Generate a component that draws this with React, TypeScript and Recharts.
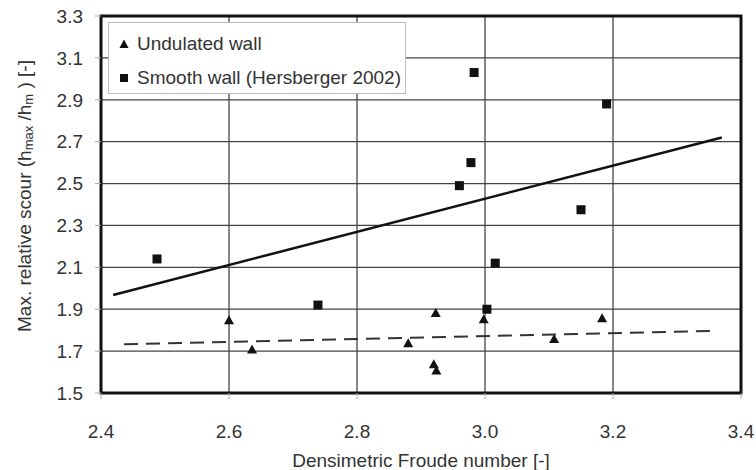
import React from "react";
import {
  ComposedChart,
  Scatter,
  Line,
  XAxis,
  YAxis,
  CartesianGrid,
  ReferenceArea,
} from "recharts";

// undulated wall measurements (Froude number, relative scour)
const undulatedWall = [
  { x: 2.6, y: 1.845 },
  { x: 2.636, y: 1.705 },
  { x: 2.88, y: 1.735 },
  { x: 2.923, y: 1.88 },
  { x: 2.92, y: 1.635 },
  { x: 2.924, y: 1.605 },
  { x: 2.998, y: 1.85 },
  { x: 3.108, y: 1.755 },
  { x: 3.183, y: 1.855 },
];

// smooth wall, Hersberger 2002
const smoothWall = [
  { x: 2.4875, y: 2.14 },
  { x: 2.739, y: 1.92 },
  { x: 2.983, y: 3.03 },
  { x: 2.978, y: 2.6 },
  { x: 2.96, y: 2.49 },
  { x: 3.003, y: 1.9 },
  { x: 3.016, y: 2.12 },
  { x: 3.15, y: 2.375 },
  { x: 3.19, y: 2.88 },
];

// trend lines
const smoothFit = [
  { x: 2.419, y: 1.968 },
  { x: 3.37, y: 2.72 },
];
const undulatedFit = [
  { x: 2.436, y: 1.733 },
  { x: 3.352, y: 1.796 },
];

const xTicks = [2.4, 2.6, 2.8, 3.0, 3.2, 3.4];
const yTicks = [1.5, 1.7, 1.9, 2.1, 2.3, 2.5, 2.7, 2.9, 3.1, 3.3];

const FONT = "'Liberation Sans', Arial, Helvetica, sans-serif";
const TEXT = "#333";
const FS = 19;

const Triangle = (props: any) => {
  const { cx, cy } = props;
  return (
    <polygon
      points={`${cx},${cy - 5.5} ${cx - 5},${cy + 3.5} ${cx + 5},${cy + 3.5}`}
      fill="#111"
    />
  );
};

const Square = (props: any) => {
  const { cx, cy } = props;
  return <rect x={cx - 4.5} y={cy - 4.5} width={9} height={9} fill="#111" />;
};

const ChartLegend = () => (
  <div
    style={{
      position: "absolute",
      left: 108,
      top: 22,
      border: "1px solid #bbb",
      background: "#fff",
      width: 298,
      height: 72,
      boxSizing: "border-box",
      fontFamily: FONT,
      fontSize: FS,
      color: TEXT,
      padding: "9px 0 0 8px",
    }}
  >
    <div style={{ display: "flex", alignItems: "center", height: 24 }}>
      <svg width={14} height={12} style={{ marginRight: 6 }}>
        <polygon points="7,1.5 2.5,10 11.5,10" fill="#111" />
      </svg>
      Undulated wall
    </div>
    <div style={{ display: "flex", alignItems: "center", height: 24, marginTop: 10 }}>
      <svg width={14} height={12} style={{ marginRight: 6 }}>
        <rect x={3} y={2} width={8} height={8} fill="#111" />
      </svg>
      Smooth wall (Hersberger 2002)
    </div>
  </div>
);

const YTitle = () => {
  const cx = 26;
  const cy = 196;
  return (
    <text
      x={cx}
      y={cy}
      transform={`rotate(-90 ${cx} ${cy})`}
      textAnchor="middle"
      dominantBaseline="middle"
      fontFamily={FONT}
      fontSize={FS}
      fill={TEXT}
    >
      Max. relative scour (h
      <tspan fontSize={13} dy={4}>max</tspan>
      <tspan dy={-4}> /h</tspan>
      <tspan fontSize={13} dy={4}>m</tspan>
      <tspan dy={-4}> ) [-]</tspan>
    </text>
  );
};

export default function App() {
  return (
    <div style={{ position: "fixed", left: 0, top: 0, width: 756, height: 470, background: "#fff" }}>
      <ComposedChart
        width={756}
        height={470}
        margin={{ top: 16, right: 15, bottom: 27, left: 41 }}
      >
        <CartesianGrid stroke="#444" strokeWidth={1.3} />
        <XAxis
          type="number"
          dataKey="x"
          domain={[2.4, 3.4]}
          ticks={xTicks}
          interval={0}
          height={50}
          axisLine={false}
          tickLine={{ stroke: "#aaa" }}
          tickSize={6}
          tickMargin={26}
          tickFormatter={(v: number) => v.toFixed(1)}
          tick={{ fill: TEXT, fontSize: FS, fontFamily: FONT }}
          label={{
            value: "Densimetric Froude number [-]",
            position: "insideBottom",
            offset: -24,
            fill: TEXT,
            fontSize: FS,
            fontFamily: FONT,
          }}
        />
        <YAxis
          type="number"
          dataKey="y"
          domain={[1.5, 3.3]}
          ticks={yTicks}
          interval={0}
          width={60}
          axisLine={false}
          tickLine={{ stroke: "#aaa" }}
          tickSize={6}
          tickMargin={12}
          tickFormatter={(v: number) => v.toFixed(1)}
          tick={{ fill: TEXT, fontSize: FS, fontFamily: FONT }}
          label={{ content: <YTitle /> }}
        />
        <ReferenceArea
          x1={2.4}
          x2={3.4}
          y1={1.5}
          y2={3.3}
          fill="none"
          fillOpacity={0}
          stroke="#111"
          strokeWidth={3}
          ifOverflow="visible"
        />
        <Line
          data={smoothFit}
          dataKey="y"
          type="linear"
          stroke="#111"
          strokeWidth={2.5}
          dot={false}
          activeDot={false}
          isAnimationActive={false}
          legendType="none"
        />
        <Line
          data={undulatedFit}
          dataKey="y"
          type="linear"
          stroke="#333"
          strokeWidth={2}
          strokeDasharray="14 8"
          dot={false}
          activeDot={false}
          isAnimationActive={false}
          legendType="none"
        />
        <Scatter
          name="Undulated wall"
          data={undulatedWall}
          shape={<Triangle />}
          isAnimationActive={false}
        />
        <Scatter
          name="Smooth wall (Hersberger 2002)"
          data={smoothWall}
          shape={<Square />}
          isAnimationActive={false}
        />
      </ComposedChart>
      <ChartLegend />
    </div>
  );
}
